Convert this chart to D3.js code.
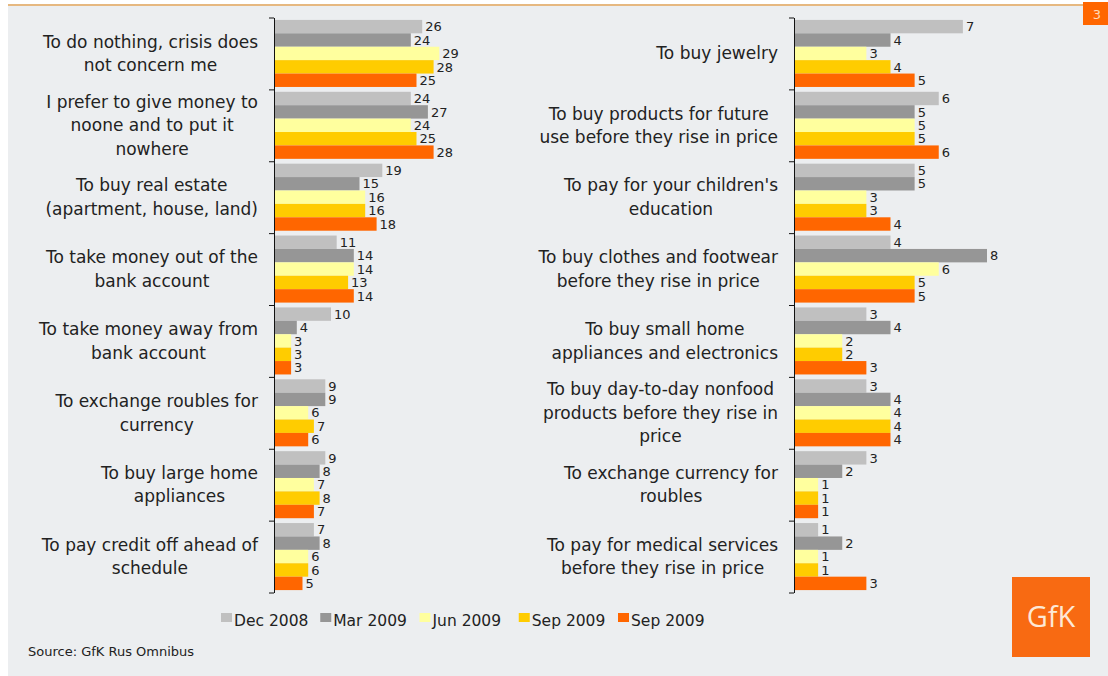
<!DOCTYPE html>
<html>
<head>
<meta charset="utf-8">
<script src="https://cdn.jsdelivr.net/npm/d3@7/dist/d3.min.js"></script>
<style>
  html, body { margin: 0; padding: 0; background: #ffffff; }
  svg { display: block; }
  text { font-family: "DejaVu Sans", Verdana, sans-serif; fill: #222; }
</style>
</head>
<body>
<svg id="chart" width="1108" height="676"></svg>
<script>
// Survey series (legend order)
const seriesNames = ["Dec 2008", "Mar 2009", "Jun 2009", "Sep 2009", "Sep 2009 "];
const seriesColors = ["#c0c0c0", "#969696", "#ffff9e", "#ffcc00", "#ff6600"];

// Left panel: the most frequent answers
const leftCategories = [
  "To do nothing, crisis does\nnot concern me",
  "I prefer to give money to\nnoone and to put it\nnowhere",
  "To buy real estate\n(apartment, house, land)",
  "To take money out of the\nbank account",
  "To take money away from\nbank account",
  "To exchange roubles for\ncurrency",
  "To buy large home\nappliances",
  "To pay credit off ahead of\nschedule"
];
const leftDec2008 = [26, 24, 19, 11, 10, 9, 9, 7];
const leftMar2009 = [24, 27, 15, 14, 4, 9, 8, 8];
const leftJun2009 = [29, 24, 16, 14, 3, 6, 7, 6];
const leftSep2009 = [28, 25, 16, 13, 3, 7, 8, 6];
const leftSep2009b = [25, 28, 18, 14, 3, 6, 7, 5];

// Right panel: less frequent answers
const rightCategories = [
  "To buy jewelry",
  "To buy products for future\nuse before they rise in price",
  "To pay for your children's\neducation",
  "To buy clothes and footwear\nbefore they rise in price",
  "To buy small home\nappliances and electronics",
  "To buy day-to-day nonfood\nproducts before they rise in\nprice",
  "To exchange currency for\nroubles",
  "To pay for medical services\nbefore they rise in price"
];
const rightDec2008 = [7, 6, 5, 4, 3, 3, 3, 1];
const rightMar2009 = [4, 5, 5, 8, 4, 4, 2, 2];
const rightJun2009 = [3, 5, 3, 6, 2, 4, 1, 1];
const rightSep2009 = [4, 5, 3, 5, 2, 4, 1, 1];
const rightSep2009b = [5, 6, 4, 5, 3, 4, 1, 3];

const svg = d3.select("#chart");

// Slide background and header rule
svg.append("rect").attr("x", 8).attr("y", 5).attr("width", 1100).attr("height", 671).attr("fill", "#eceef0");
svg.append("line").attr("x1", 8).attr("x2", 1083).attr("y1", 5).attr("y2", 5)
  .attr("stroke", "#e6b880").attr("stroke-width", 2);
svg.append("rect").attr("x", 1083).attr("y", 2).attr("width", 25).attr("height", 23).attr("fill", "#ff6600");
svg.append("text").attr("x", 1097).attr("y", 19).attr("text-anchor", "middle")
  .style("font-size", "13px").style("fill", "#ffd9b8").text("3");

function panel(categories, seriesValues, axisX, xMax, xEnd) {
  const g = svg.append("g");
  const rows = categories.map((c, i) => ({ label: c, values: seriesValues.map(s => s[i]) }));

  const y = d3.scaleBand().domain(d3.range(categories.length)).range([17.5, 592.5]).padding(0);
  const ySub = d3.scaleBand().domain(d3.range(seriesNames.length))
    .range([0, y.bandwidth()]).paddingInner(0).paddingOuter(0.18);
  const x = d3.scaleLinear().domain([0, xMax]).range([axisX, xEnd]);

  const groups = g.selectAll("g.row").data(rows).join("g")
    .attr("class", "row")
    .attr("transform", (d, i) => `translate(0,${y(i)})`);

  groups.selectAll("rect").data(d => d.values).join("rect")
    .attr("x", x(0))
    .attr("y", (v, j) => ySub(j))
    .attr("width", v => x(v) - x(0))
    .attr("height", ySub.bandwidth())
    .attr("fill", (v, j) => seriesColors[j]);

  groups.selectAll("text.val").data(d => d.values).join("text")
    .attr("class", "val")
    .attr("x", v => x(v) + 3)
    .attr("y", (v, j) => ySub(j) + ySub.bandwidth() / 2)
    .attr("dy", "0.36em")
    .style("font-size", "13px")
    .text(v => v);

  // Category labels: lines centred inside a block right-aligned to the axis
  const lineH = 23.5;
  groups.each(function (d) {
    const lines = d.label.split("\n");
    const t = d3.select(this).append("text")
      .style("font-size", "17px")
      .attr("text-anchor", "middle");
    const top = y.bandwidth() / 2 - (lines.length - 1) * lineH / 2;
    const spans = lines.map((ln, k) => t.append("tspan")
      .attr("y", top + k * lineH).attr("dy", "0.35em").text(ln));
    const maxW = d3.max(spans, s => s.node().getComputedTextLength());
    const cx = axisX - 16 - maxW / 2;
    spans.forEach(s => s.attr("x", cx));
  });

  // Axis with ticks on group boundaries
  const yEdges = d3.scaleLinear().domain([0, categories.length]).range([17.5, 592.5]);
  const axis = g.append("g").attr("transform", `translate(${axisX},0)`)
    .call(d3.axisLeft(yEdges).tickValues(d3.range(categories.length + 1))
      .tickFormat("").tickSize(5).tickSizeOuter(0));
  axis.select(".domain").attr("stroke", "#111");
  axis.selectAll(".tick line").attr("stroke", "#111");
}

panel(leftCategories, [leftDec2008, leftMar2009, leftJun2009, leftSep2009, leftSep2009b], 274, 30, 445);
panel(rightCategories, [rightDec2008, rightMar2009, rightJun2009, rightSep2009, rightSep2009b], 794, 8, 987);

// Legend: evenly spaced swatches
const legendX = d3.scalePoint().domain(d3.range(seriesNames.length)).range([221, 618]);
const legend = svg.append("g").attr("transform", "translate(0,621)");
seriesNames.forEach((name, i) => {
  const item = legend.append("g").attr("transform", `translate(${legendX(i)},0)`);
  item.append("rect").attr("x", 0).attr("y", -8).attr("width", 11).attr("height", 9).attr("fill", seriesColors[i]);
  item.append("text").attr("x", 13).attr("y", 0).attr("dy", "0.3em")
    .style("font-size", "15.5px").text(name.trim());
});

// Source note
svg.append("text").attr("x", 28).attr("y", 656).style("font-size", "13px").text("Source: GfK Rus Omnibus");

// GfK logo
svg.append("rect").attr("x", 1012).attr("y", 577).attr("width", 78).attr("height", 80).attr("fill", "#f86a12");
svg.append("text").attr("x", 1051).attr("y", 627).attr("text-anchor", "middle")
  .style("font-family", "'Open Sans', sans-serif").style("font-size", "29px").style("fill", "#fde8d6")
  .text("GfK");
</script>
</body>
</html>
